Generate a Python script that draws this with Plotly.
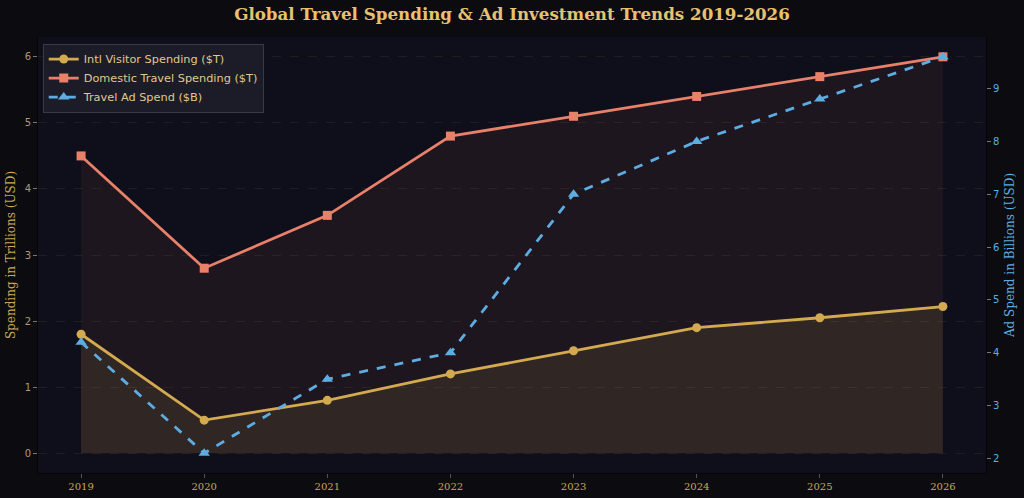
import plotly.graph_objects as go

years = [2019, 2020, 2021, 2022, 2023, 2024, 2025, 2026]
intl_spending = [1.8, 0.5, 0.8, 1.2, 1.55, 1.9, 2.05, 2.22]
domestic_spending = [4.5, 2.8, 3.6, 4.8, 5.1, 5.4, 5.7, 6.0]
ad_spend = [4.2, 2.1, 3.5, 4.0, 7.0, 8.0, 8.8, 9.6]

GOLD = "#d4aa50"
SALMON = "#e8806a"
BLUE = "#5dade2"

fig = go.Figure()

fig.add_trace(go.Scatter(
    x=years, y=domestic_spending, name="Domestic Travel Spending ($T)",
    mode="lines", fill="tozeroy", fillcolor="rgba(232,128,106,0.07)",
    line=dict(width=0), showlegend=False, hoverinfo="skip"))
fig.add_trace(go.Scatter(
    x=years, y=intl_spending, name="Intl Visitor Spending ($T)",
    mode="lines", fill="tozeroy", fillcolor="rgba(212,170,80,0.11)",
    line=dict(width=0), showlegend=False, hoverinfo="skip"))

fig.add_trace(go.Scatter(
    x=years, y=intl_spending, name="Intl Visitor Spending ($T)",
    mode="lines+markers", line=dict(color=GOLD, width=2.8),
    marker=dict(symbol="circle", size=9, color=GOLD)))
fig.add_trace(go.Scatter(
    x=years, y=domestic_spending, name="Domestic Travel Spending ($T)",
    mode="lines+markers", line=dict(color=SALMON, width=2.8),
    marker=dict(symbol="square", size=9, color=SALMON)))
fig.add_trace(go.Scatter(
    x=years, y=ad_spend, name="Travel Ad Spend ($B)", yaxis="y2",
    mode="lines+markers", line=dict(color=BLUE, width=2.8, dash="dash"),
    marker=dict(symbol="triangle-up", size=10, color=BLUE)))

fig.update_layout(
    width=1024, height=498,
    margin=dict(l=38, r=38, t=37, b=25, autoexpand=False),
    paper_bgcolor="#0c0c10",
    plot_bgcolor="#0e0f1a",
    title=dict(text="<b>Global Travel Spending & Ad Investment Trends 2019-2026</b>",
               x=0.5, xanchor="center", y=0.972, yanchor="middle",
               font=dict(family="DejaVu Serif", size=16.7, color="#e8c170")),
    xaxis=dict(range=[2018.65, 2026.35], tickvals=years, ticktext=[str(y) for y in years],
               showgrid=False, zeroline=False, ticks="outside", ticklen=4, tickcolor="#555",
               tickfont=dict(family="DejaVu Serif", size=10, color="#c9a94f"),
               showline=True, linecolor="#050507", mirror=False, automargin=False),
    yaxis=dict(range=[-0.3, 6.3], tickvals=[0, 1, 2, 3, 4, 5, 6], zeroline=False,
               showgrid=True, gridcolor="rgba(80,62,40,0.3)", griddash="dash", gridwidth=1,
               ticks="outside", ticklen=4, tickcolor="#777", automargin=False,
               tickfont=dict(family="DejaVu Sans", size=10, color="#a89a7a"),
               showline=True, linecolor="#050507", linewidth=1,
               title=dict(text="Spending in Trillions (USD)", standoff=6,
                          font=dict(family="DejaVu Serif", size=12, color="#c9a94f"))),
    yaxis2=dict(range=[1.725, 9.975], tickvals=[2, 3, 4, 5, 6, 7, 8, 9], overlaying="y",
                side="right", showgrid=False, zeroline=False, automargin=False,
                ticks="outside", ticklen=4, tickcolor="#777",
                tickfont=dict(family="DejaVu Sans", size=10, color="#5dade2"),
                showline=True, linecolor="#050507", linewidth=1,
                title=dict(text="Ad Spend in Billions (USD)", standoff=7,
                           font=dict(family="DejaVu Serif", size=12, color="#5dade2"))),
    legend=dict(x=0.005, y=0.985, xanchor="left", yanchor="top",
                bgcolor="rgba(28,29,40,0.92)", bordercolor="#3a3a44", borderwidth=1,
                font=dict(family="DejaVu Sans", size=11.3, color="#e0c890"),
                tracegroupgap=0, itemwidth=30),
    showlegend=True,
)

fig.write_html("out.html")
